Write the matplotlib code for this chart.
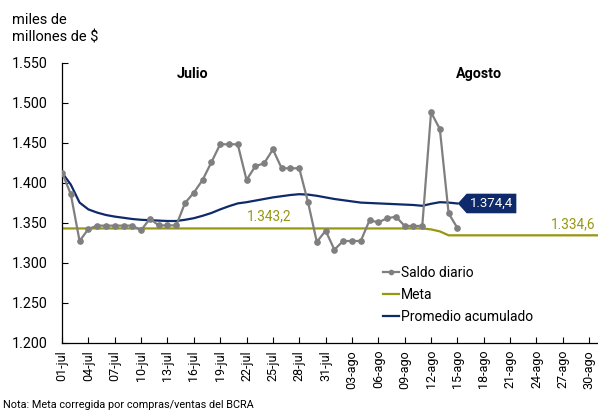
import matplotlib
matplotlib.use('Agg')
import matplotlib.pyplot as plt
from matplotlib.path import Path
import numpy as np

plt.rcParams['font.family'] = ['Roboto', 'DejaVu Sans']

# ---- data ----
tick_labels = ["01-jul", "04-jul", "07-jul", "10-jul", "13-jul", "16-jul", "19-jul",
               "22-jul", "25-jul", "28-jul", "31-jul", "03-ago", "06-ago", "09-ago",
               "12-ago", "15-ago", "18-ago", "21-ago", "24-ago", "27-ago", "30-ago"]

# daily values 01-jul .. 15-ago
saldo_diario = [1413.0, 1386.0, 1327.5, 1342.5, 1346.7, 1346.7, 1346.7, 1346.7, 1346.7,
                1340.9, 1355.4, 1347.0, 1347.0, 1347.0, 1375.0, 1387.9, 1403.8, 1425.9,
                1448.4, 1448.4, 1448.4, 1403.8, 1421.0, 1424.6, 1442.0, 1418.4, 1418.4,
                1418.4, 1375.9, 1326.3, 1340.4, 1316.7, 1327.5, 1327.5, 1327.5, 1353.4,
                1350.9, 1355.9, 1357.9, 1346.3, 1346.3, 1346.3, 1488.3, 1467.5, 1362.0,
                1343.8]

promedio_acumulado = [1413.0, 1398.0, 1375.5, 1367.0, 1363.0, 1360.0, 1358.0, 1356.5, 1355.0,
                      1354.0, 1353.5, 1353.0, 1352.5, 1352.5, 1354.0, 1356.0, 1359.0, 1362.5,
                      1367.0, 1371.0, 1374.5, 1376.0, 1378.0, 1380.0, 1382.0, 1383.5, 1385.0,
                      1386.0, 1385.5, 1384.0, 1382.0, 1380.0, 1378.5, 1377.0, 1375.5, 1375.0,
                      1374.5, 1374.0, 1373.5, 1373.0, 1372.5, 1371.5, 1374.0, 1376.0, 1375.5,
                      1374.4]

# 01-jul .. 31-ago
meta = [1343.2] * 42 + [1342.0, 1339.5] + [1334.6] * 18

y_ticks = [1200, 1250, 1300, 1350, 1400, 1450, 1500, 1550]

# ---- colours ----
c_gray = '#7F7F7F'
c_olive = '#979712'
c_navy = '#0E2A6A'

fig = plt.figure(figsize=(5.98, 4.15), dpi=100)
ax = fig.add_axes([0.1037, 0.1735, 0.8963, 0.6747])

x_s = np.arange(len(saldo_diario))
x_m = np.arange(len(meta))
ax.plot(x_m, meta, color=c_olive, lw=1.6, label='Meta', zorder=2)
ax.plot(x_s, promedio_acumulado, color=c_navy, lw=1.6, label='Promedio acumulado', zorder=3)
ax.plot(x_s, saldo_diario, color=c_gray, lw=1.6, marker='o', ms=3.8,
        label='Saldo diario', zorder=4)

ax.set_xlim(0, 61)
ax.set_ylim(1200, 1550)
ax.set_yticks(y_ticks)
ax.set_yticklabels([f"{v/1000:.3f}" for v in y_ticks], fontsize=10.3)
ax.set_xticks(np.arange(0, 61, 3))
ax.set_xticklabels(tick_labels, rotation=90, fontsize=9)
ax.tick_params(axis='both', direction='in', length=4, width=0.8, color='black')
ax.tick_params(axis='y', pad=10)
ax.tick_params(axis='x', pad=5)
for s in ['top', 'right']:
    ax.spines[s].set_visible(False)
for s in ['left', 'bottom']:
    ax.spines[s].set_linewidth(0.9)

# legend
h, l = ax.get_legend_handles_labels()
order = [2, 0, 1]
ax.legend([h[i] for i in order], [l[i] for i in order], loc='upper left',
          bbox_to_anchor=(0.640, 0.360), bbox_transform=fig.transFigure,
          frameon=False, fontsize=10, handlelength=1.2, handletextpad=0.12,
          labelspacing=0.6, borderpad=0, borderaxespad=0, markerscale=0.8)

# month labels
ax.text(14.9, 1536, 'Julio', ha='center', va='center', fontsize=10.3, fontweight='bold')
ax.text(47.4, 1536, 'Agosto', ha='center', va='center', fontsize=10.3, fontweight='bold')

# meta labels
ax.annotate('1.343,2', xy=(23.6, 1343.2), xytext=(0, 3.5), textcoords='offset points',
            ha='center', va='bottom', color=c_olive, fontsize=9.8)
ax.annotate('1.334,6', xy=(60.7, 1334.6), xytext=(0, 3), textcoords='offset points',
            ha='right', va='bottom', color=c_olive, fontsize=9.8)


def pentagon(x0, y0, width, height, mutation_size):
    pad = 0.25 * mutation_size
    x0 -= pad
    y0 -= pad
    w = width + 2 * pad
    hh = height + 2 * pad
    tip = 0.45 * hh
    verts = [(x0, y0), (x0 + w, y0), (x0 + w, y0 + hh), (x0, y0 + hh),
             (x0 - tip, y0 + hh / 2), (x0, y0)]
    return Path(verts, closed=True)


ax.annotate('1.374,4', xy=(len(promedio_acumulado) - 1, promedio_acumulado[-1]),
            xytext=(9, 0), textcoords='offset points', ha='left', va='center',
            color='white', fontsize=9.5,
            bbox=dict(boxstyle=pentagon, fc=c_navy, ec='none'))

# y-axis title and footnote
fig.text(12 / 598, 1 - 13 / 415, 'miles de\nmillones de $', ha='left', va='top',
         fontsize=10.5, linespacing=1.3)
fig.text(3 / 598, 1 - 405 / 415, 'Nota: Meta corregida por compras/ventas del BCRA',
         ha='left', va='center', fontsize=7.8)

fig.savefig('out.png', dpi=100)
